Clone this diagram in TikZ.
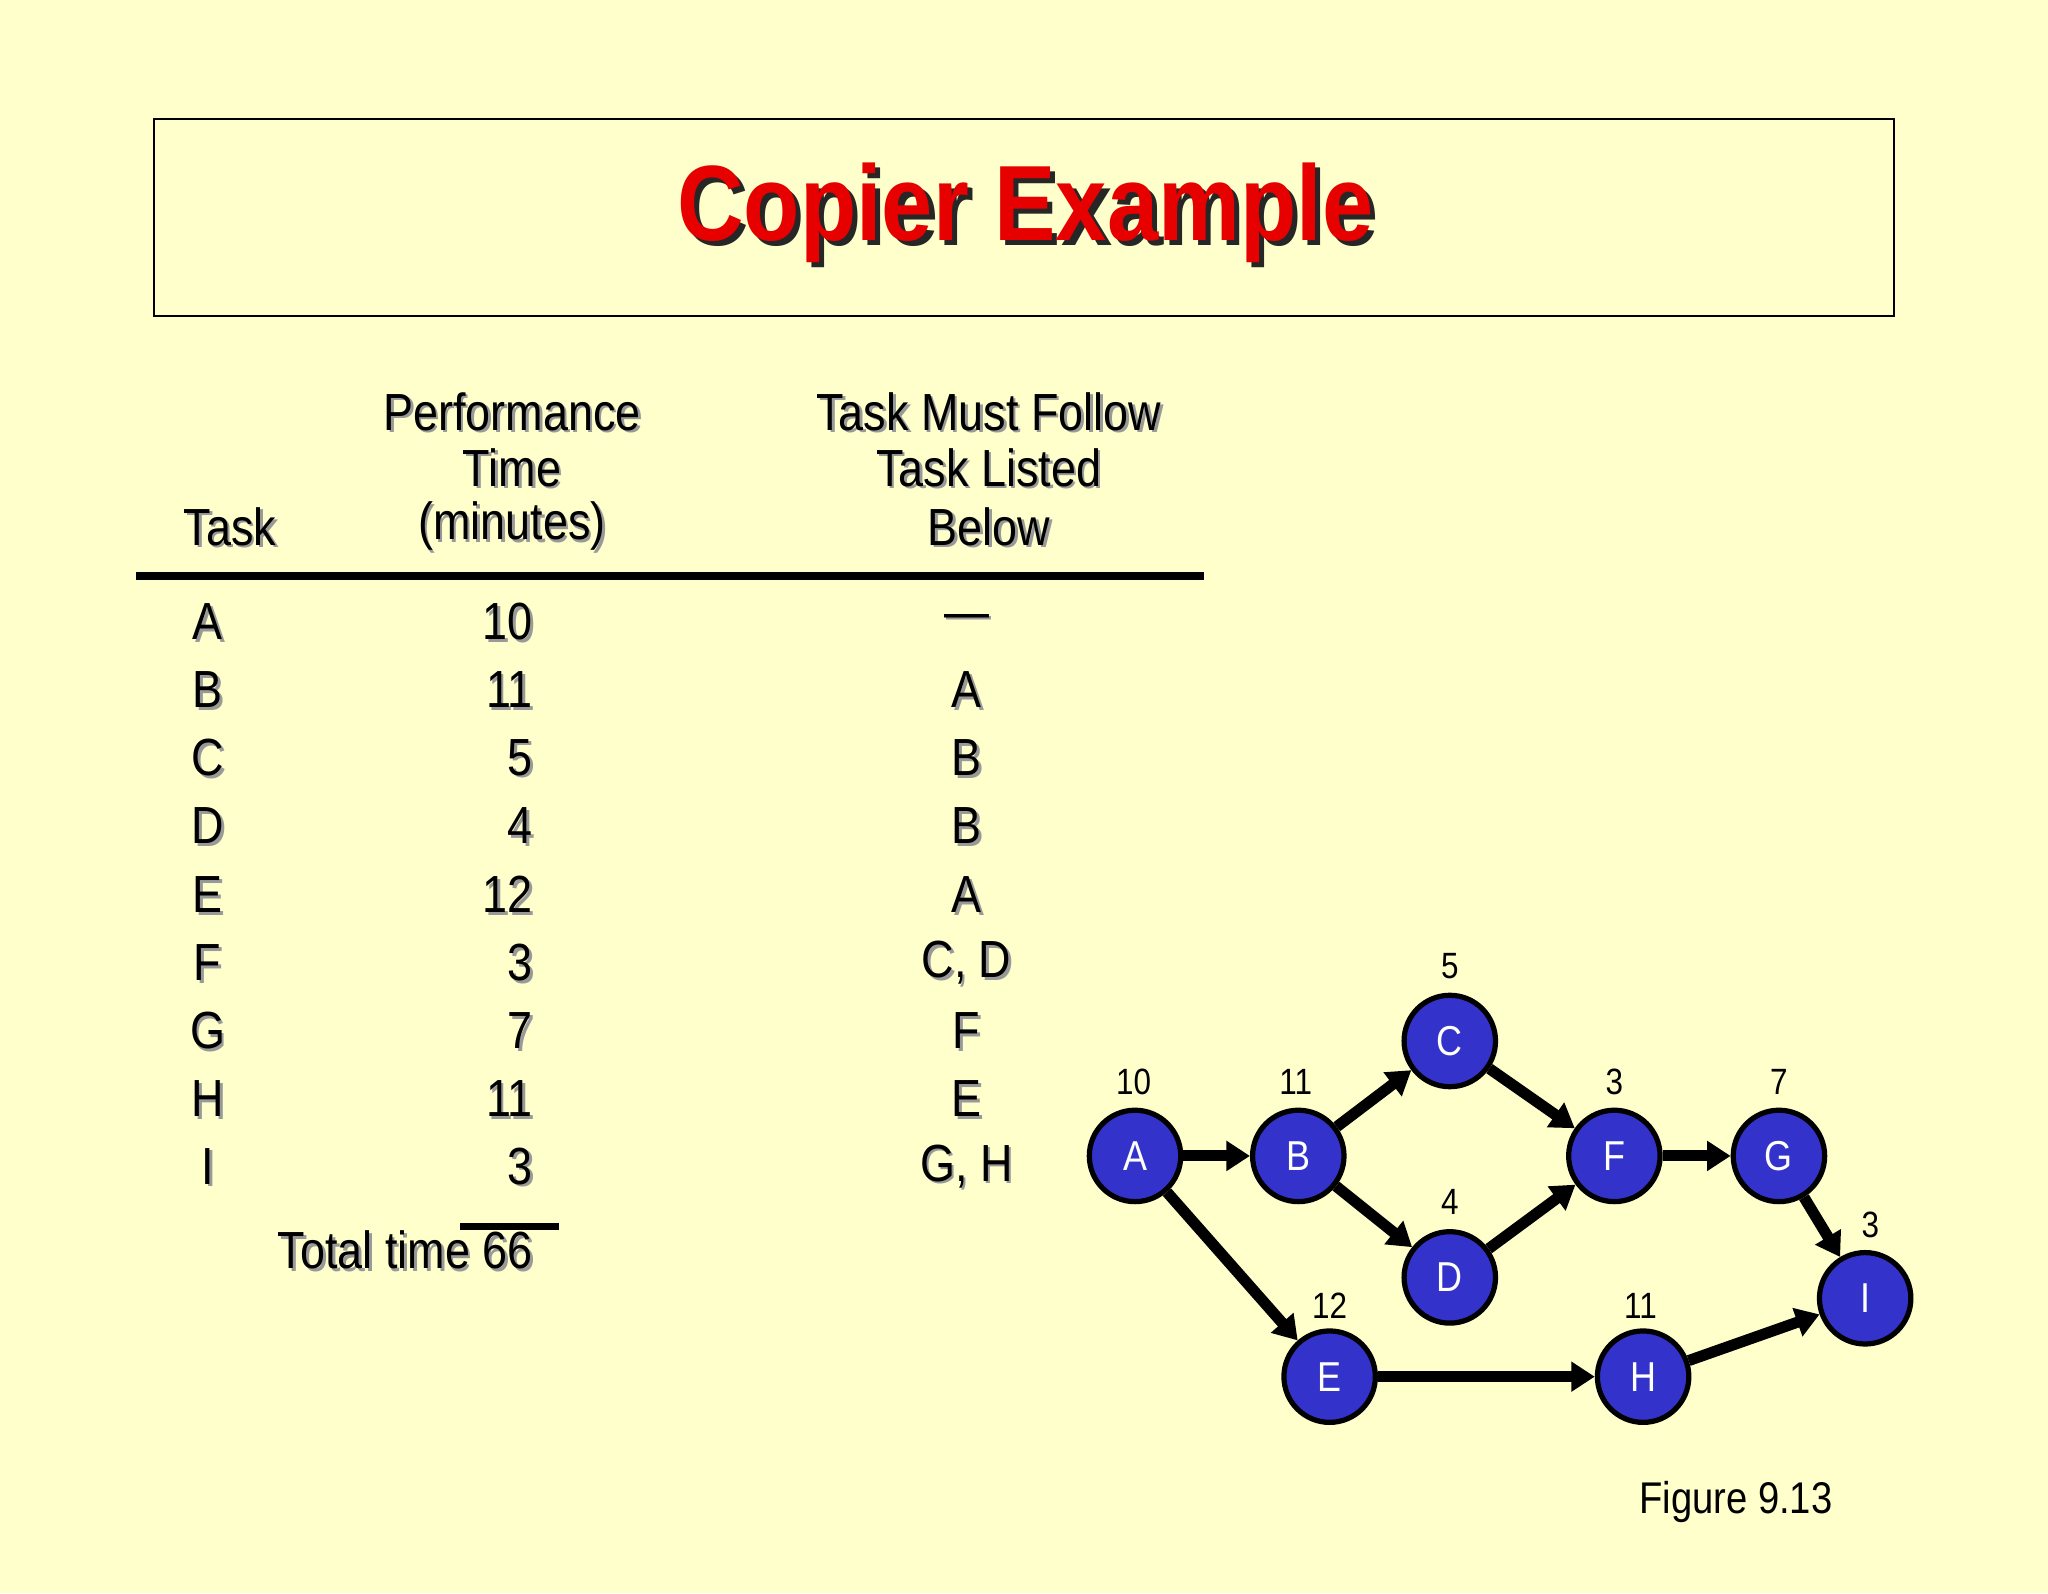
\documentclass[tikz,border=0pt]{standalone}
\usepackage{fontspec}
\setmainfont[FakeStretch=0.86]{Liberation Sans}
\usetikzlibrary{arrows.meta,calc}
\definecolor{bg}{RGB}{255,255,204}
\definecolor{nodeblue}{RGB}{51,51,204}
\definecolor{titlered}{RGB}{230,0,0}
\newcommand\shtext[5][]{% name, x, y, text
  \node[txt,text=black!40,#1] at (#3+2,-#4-2) {#5};
  \node[txt,#1] (#2) at (#3,-#4) {#5};}
\tikzset{
  txt/.style={inner sep=0pt,font=\fontsize{40}{44}\selectfont},
  rt/.style={anchor=east},
  task/.style={circle,draw=black,line width=4pt,fill=nodeblue,minimum size=70pt,inner sep=0pt,font=\fontsize{32}{36}\selectfont,text=white},
  num/.style={inner sep=0pt,font=\fontsize{28}{32}\selectfont},
  arr/.style={line width=8.5pt,-{Triangle[length=18pt,width=22pt]}},
}
\begin{document}
\begin{tikzpicture}[x=1pt,y=1pt]
\fill[bg] (0,0) rectangle (1568,-1220);
\useasboundingbox (0,0) rectangle (1568,-1220);
\draw[line width=1.2pt] (118,-91) rectangle (1450,-242);
\node[inner sep=0pt,font=\fontsize{82}{90}\selectfont\bfseries,text=black!85] at (789,-167) {Copier Example};
\node[inner sep=0pt,font=\fontsize{82}{90}\selectfont\bfseries,text=titlered] (title) at (785,-163) {Copier Example};
% header
\shtext{h1}{392}{315}{Performance}
\shtext{h2}{392}{358}{Time}
\shtext{h3}{392}{403}{(minutes)}
\shtext{h4}{176}{403}{Task}
\shtext{h5}{757}{315}{Task Must Follow}
\shtext{h6}{757}{358}{Task Listed}
\shtext{h7}{757}{403}{Below}
\draw[line width=6pt] (104,-441) -- (922,-441);
% rows
\foreach \t/\v/\p/\y [count=\i] in {A/10/---/476,B/11/A/528,C/5/B/580,D/4/B/632,E/12/A/685,F/3/{C, D}/737,G/7/F/789,H/11/E/841,I/3/{G, H}/893}{
  \shtext{t\i}{159}{\y}{\t}
  \shtext[rt]{v\i}{408}{\y}{\v}
  \shtext{p\i}{740}{\y}{\p}
}
\draw[line width=6pt] (352,-939) -- (428,-939);
\shtext[rt]{total}{408}{957}{Total time 66}
% network
\node[task] (A) at (869,-885) {A};
\node[task] (B) at (994,-885) {B};
\node[task] (C) at (1110,-797) {C};
\node[task] (D) at (1110,-978) {D};
\node[task] (E) at (1018,-1054) {E};
\node[task] (F) at (1236,-885) {F};
\node[task] (G) at (1362,-885) {G};
\node[task] (H) at (1258,-1054) {H};
\node[task] (I) at (1428,-994) {I};
\node[num] (nA) at (868,-828) {10};
\node[num] (nB) at (992,-828) {11};
\node[num] (nC) at (1110,-740) {5};
\node[num] (nD) at (1110,-920) {4};
\node[num] (nE) at (1018,-1000) {12};
\node[num] (nF) at (1236,-828) {3};
\node[num] (nG) at (1362,-828) {7};
\node[num] (nH) at (1256,-1000) {11};
\node[num] (nI) at (1432,-938) {3};
\draw[arr] (A) -- (B);
\draw[arr] (A) -- (E);
\draw[arr] (B) -- (C);
\draw[arr] (B) -- (D);
\draw[arr] (C) -- (F);
\draw[arr] (D) -- (F);
\draw[arr] (F) -- (G);
\draw[arr] (G) -- (I);
\draw[arr] (E) -- (H);
\draw[arr] (H) -- (I);
\node[inner sep=0pt,font=\fontsize{34}{38}\selectfont] (fig) at (1329,-1150) {Figure 9.13};
\end{tikzpicture}
\end{document}
